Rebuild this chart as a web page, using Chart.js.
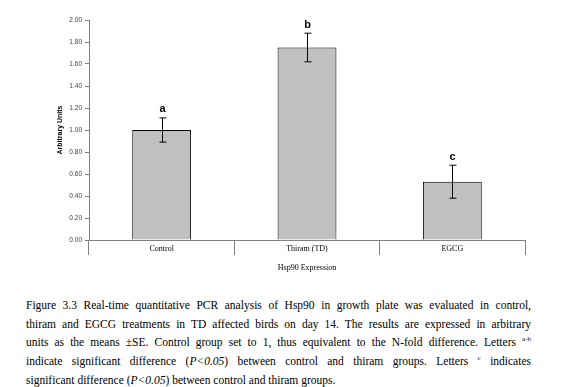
<!DOCTYPE html>
<html>
<head>
<meta charset="utf-8">
<script src="https://cdn.jsdelivr.net/npm/chart.js@4/dist/chart.umd.min.js"></script>
<style>
  body { margin: 0; background: #fff; }
  #wrap { position: absolute; left: 0; top: 0; width: 571px; height: 276px; }
  #cap { position: absolute; left: 26px; top: 296px; width: 505px;
         font-family: "Liberation Serif", "DejaVu Serif", serif; font-size: 11.5px; color: #000; }
  #cap div { height: 18.7px; line-height: 18.7px; text-align: justify; text-align-last: justify; white-space: nowrap; }
  #cap div.last { text-align-last: left; }
  sup { font-size: 7px; line-height: 0; }
</style>
</head>
<body>
<div id="wrap"><canvas id="grafico"></canvas></div>
<div id="cap">
  <div>Figure 3.3 Real-time quantitative PCR analysis of Hsp90 in growth plate was evaluated in control,</div>
  <div>thiram and EGCG treatments in TD affected birds on day 14. The results are expressed in arbitrary</div>
  <div>units as the means ±SE. Control group set to 1, thus equivalent to the N-fold difference. Letters <sup>a-b</sup></div>
  <div>indicate significant difference (<i>P&lt;0.05</i>) between control and thiram groups. Letters <sup>c</sup> indicates</div>
  <div class="last">significant difference (<i>P&lt;0.05</i>) between control and thiram groups.</div>
</div>
<script>
const grupos = ['Control', 'Thiram (TD)', 'EGCG'];
const valores = [1.00, 1.75, 0.53];
const errores = [0.11, 0.13, 0.15];
const letras = ['a', 'b', 'c'];

// barras de error y letras encima
const extras = {
  id: 'extras',
  afterDatasetsDraw(chart) {
    const ctx = chart.ctx;
    const y = chart.scales.y;
    const meta = chart.getDatasetMeta(0);
    ctx.save();
    ctx.strokeStyle = '#000';
    ctx.lineWidth = 1;
    meta.data.forEach((bar, i) => {
      const x = Math.round(bar.x) + 0.5;
      const top = y.getPixelForValue(valores[i] + errores[i]);
      const bot = y.getPixelForValue(valores[i] - errores[i]);
      ctx.beginPath();
      ctx.moveTo(x, top); ctx.lineTo(x, bot);
      ctx.moveTo(x - 3, top); ctx.lineTo(x + 4, top);
      ctx.moveTo(x - 3, bot); ctx.lineTo(x + 4, bot);
      ctx.stroke();
      ctx.fillStyle = '#000';
      ctx.font = 'bold 11px "Liberation Sans", Arial, sans-serif';
      ctx.textAlign = 'center';
      ctx.textBaseline = 'bottom';
      ctx.fillText(letras[i], x, top - 3);
    });
    ctx.restore();
  }
};

const data = {
  labels: grupos,
  datasets: [{
    data: valores,
    backgroundColor: '#c0c0c0',
    borderColor: '#000',
    borderWidth: 1,
    categoryPercentage: 1,
    barPercentage: 0.405
  }]
};

const config = {
  type: 'bar',
  data: data,
  options: {
    responsive: true,
    maintainAspectRatio: false,
    animation: false,
    layout: { padding: { left: 56, right: 46, top: 20, bottom: 0 } },
    plugins: { legend: { display: false }, tooltip: { enabled: false } },
    scales: {
      x: {
        afterFit: (s) => { s.height = 36; },
        grid: { offset: true, drawOnChartArea: false, drawTicks: true, tickLength: 15, color: '#808080' },
        border: { color: '#808080' },
        ticks: { padding: -11, color: '#000', font: { family: '"Liberation Serif", serif', size: 8 } },
        title: { display: true, text: 'Hsp90 Expression', color: '#000', padding: { top: 0, bottom: 3 },
                 font: { family: '"Liberation Serif", serif', size: 8 } }
      },
      y: {
        min: 0, max: 2,
        afterFit: (s) => { s.width = 33; },
        grid: { drawOnChartArea: false, drawTicks: true, tickLength: 4, color: '#808080' },
        border: { color: '#808080' },
        ticks: { stepSize: 0.2, padding: 3, color: '#404040', callback: (v) => v.toFixed(2),
                 font: { family: '"Liberation Sans", Arial, sans-serif', size: 6.5 } },
        title: { display: true, text: 'Arbitrary Units', color: '#000', padding: 0,
                 font: { family: '"Liberation Sans", Arial, sans-serif', size: 7, weight: 'bold' } }
      }
    }
  },
  plugins: [extras]
};

const myChart = new Chart(document.getElementById('grafico'), config);
</script>
</body>
</html>
